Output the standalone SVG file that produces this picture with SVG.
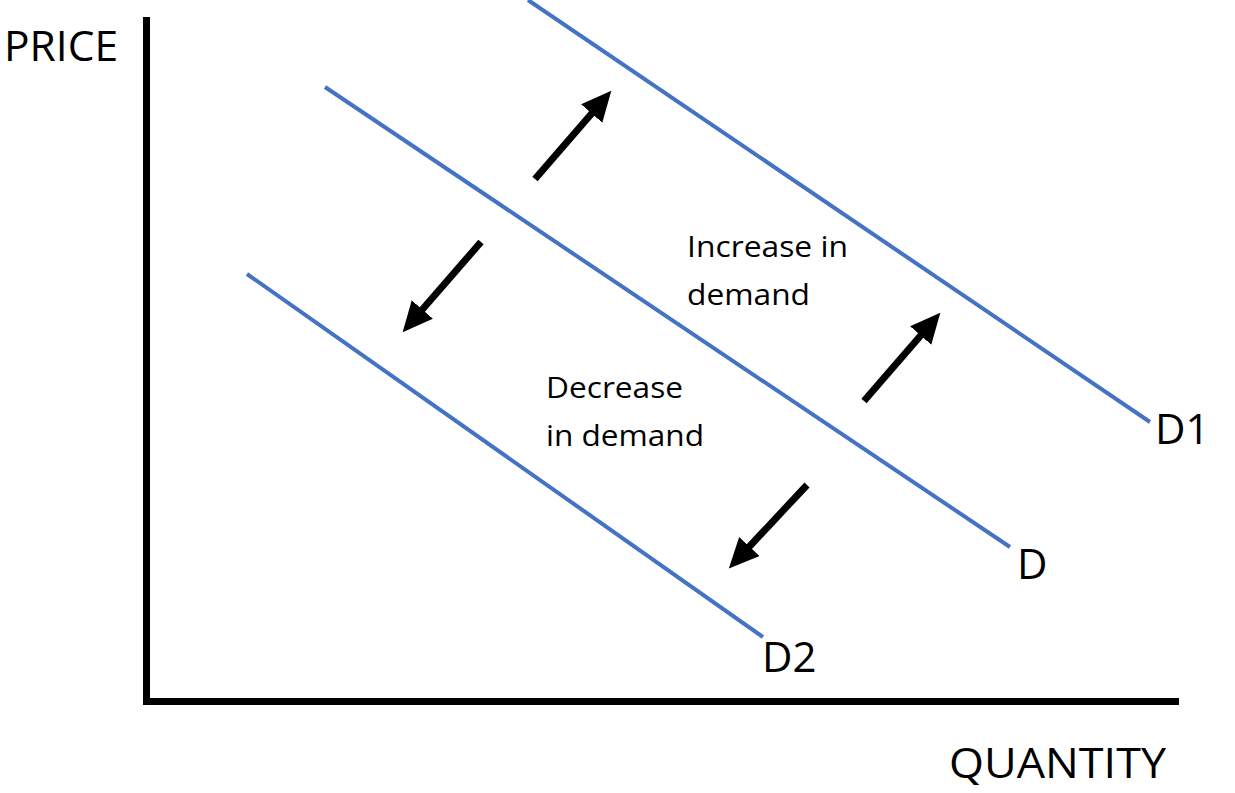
<svg xmlns="http://www.w3.org/2000/svg" width="1235" height="793" viewBox="0 0 1235 793">
<style>
.axis{stroke:#000;stroke-width:7;fill:none}
.curve{stroke:#4472C4;stroke-width:4;fill:none}
.arr{stroke:#000;stroke-width:7;fill:none}
.big{font-family:"Open Sans","Noto Sans",sans-serif;font-size:42px;fill:#000}
.small{font-family:"Open Sans","Noto Sans",sans-serif;font-size:30px;fill:#000}
</style>
<defs>
<marker id="ah" markerUnits="userSpaceOnUse" markerWidth="40" markerHeight="40" refX="2" refY="14" orient="auto">
<path d="M0,0 L30,14 L0,28 Z" fill="#000"/>
</marker>
</defs>
<rect width="1235" height="793" fill="#fff"/>
<g id="axes">
<path class="axis" d="M146.5,17 V701.5 H1179"/>
</g>
<g id="curves">
<line id="D1" class="curve" x1="528" y1="0" x2="1150" y2="422"/>
<line id="D" class="curve" x1="325" y1="87" x2="1010" y2="547"/>
<line id="D2" class="curve" x1="247" y1="274" x2="763" y2="637"/>
</g>
<g id="connectors">
<line class="arr" x1="535" y1="179" x2="593" y2="112" marker-end="url(#ah)"/>
<line class="arr" x1="481" y1="242" x2="421" y2="311" marker-end="url(#ah)"/>
<line class="arr" x1="864" y1="401" x2="922" y2="334" marker-end="url(#ah)"/>
<line class="arr" x1="807" y1="485" x2="748" y2="548" marker-end="url(#ah)"/>
</g>
<g id="labels">
<text class="big" x="4" y="61" textLength="114" lengthAdjust="spacingAndGlyphs">PRICE</text>
<text class="big" x="949" y="778" textLength="217" lengthAdjust="spacingAndGlyphs">QUANTITY</text>
<text class="big" x="1155" y="444">D1</text>
<text class="big" x="1017" y="579">D</text>
<text class="big" x="762" y="672">D2</text>
<text class="small" x="687" y="257" textLength="161" lengthAdjust="spacingAndGlyphs">Increase in</text>
<text class="small" x="687" y="305" textLength="123" lengthAdjust="spacingAndGlyphs">demand</text>
<text class="small" x="546" y="398" textLength="137" lengthAdjust="spacingAndGlyphs">Decrease</text>
<text class="small" x="546" y="446" textLength="158" lengthAdjust="spacingAndGlyphs">in demand</text>
</g>
</svg>
